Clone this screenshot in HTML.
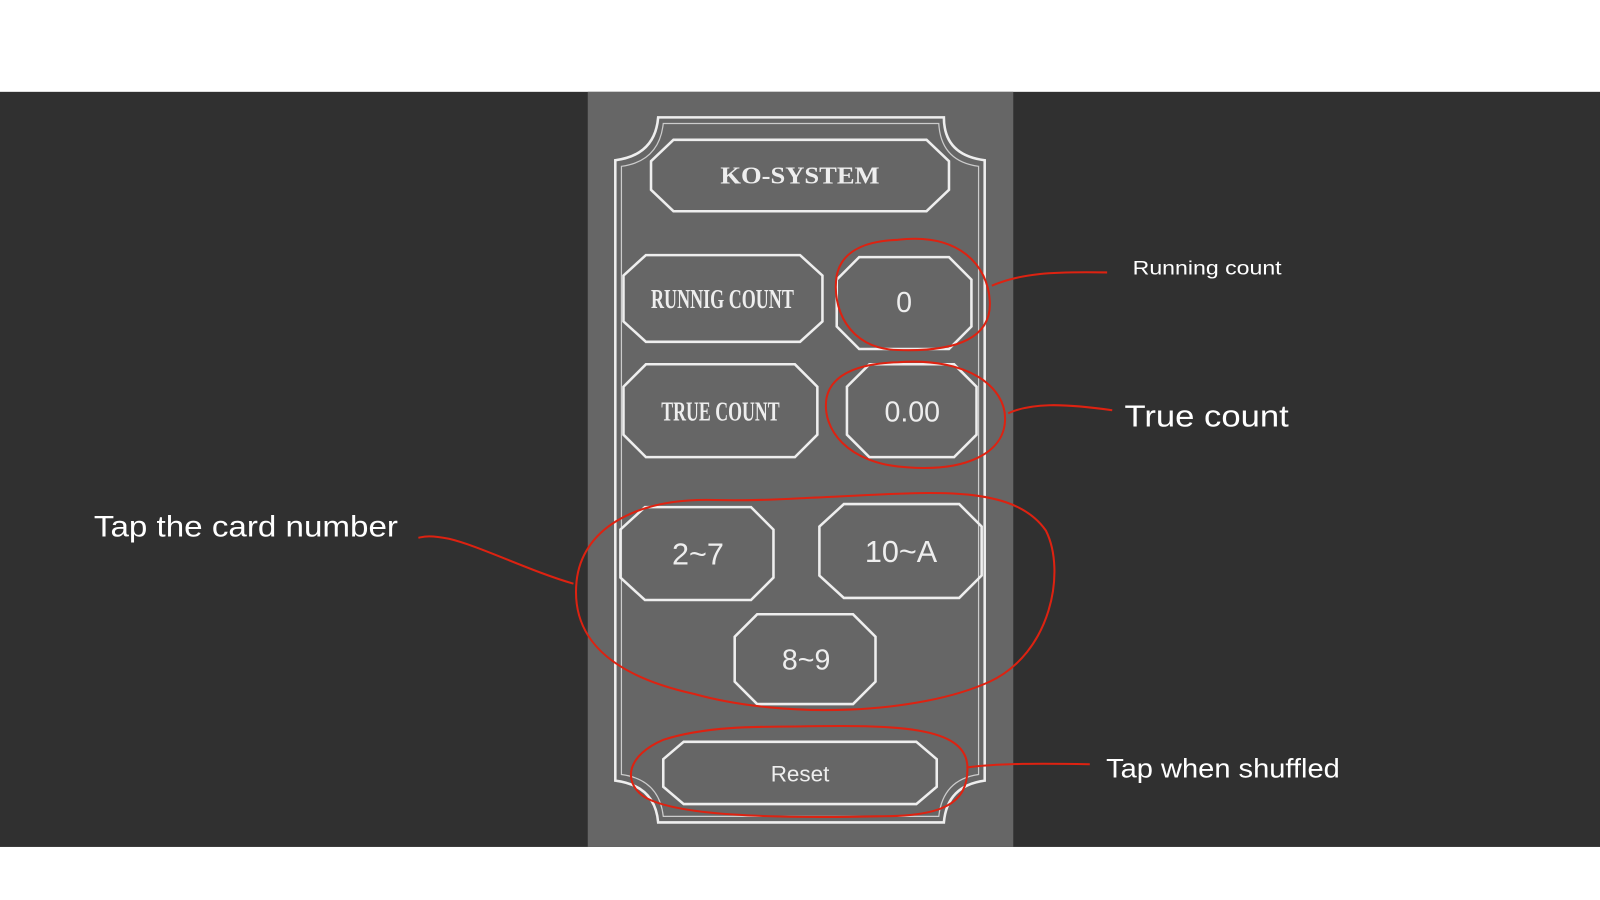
<!DOCTYPE html>
<html><head><meta charset="utf-8"><style>
html,body{margin:0;padding:0;background:#fff;width:1600px;height:900px;overflow:hidden}
svg{display:block}
</style></head><body>
<svg width="1600" height="900" viewBox="0 0 1568 882" preserveAspectRatio="none" xmlns="http://www.w3.org/2000/svg">
<rect x="0" y="0" width="1568" height="882" fill="#fff"/>
<rect x="0" y="90" width="1568" height="740" fill="#303030"/>
<rect x="576" y="90" width="417" height="740" fill="#666"/>
<g fill="none" stroke="#eee" stroke-width="2.5">
<path d="M645,115 L925,115 Q925,152 965,157 L965,765 Q928,770 925,806 L645,806 Q642,770 603,765 L603,157 Q642,152 645,115 Z"/>
<path d="M650,121 L920,121 Q922,158 959,163 L959,759 Q924,764 920,800 L650,800 Q646,764 609,759 L609,163 Q646,158 650,121 Z" stroke-width="1.2" stroke="#ccc"/>
<path d="M660,137 L908,137 L930,158 L930,186 L908,207 L660,207 L638,186 L638,158 Z"/>
<path d="M633,250 L784,250 L806,270 L806,315 L784,335 L633,335 L611,315 L611,270 Z"/>
<path d="M842,252 L930,252 L952,274 L952,320 L930,342 L842,342 L820,320 L820,274 Z"/>
<path d="M633,357 L779,357 L801,379 L801,426 L779,448 L633,448 L611,426 L611,379 Z"/>
<path d="M852,357 L935,357 L957,379 L957,426 L935,448 L852,448 L830,426 L830,379 Z"/>
<path d="M632,497 L736,497 L758,519 L758,566 L736,588 L632,588 L608,566 L608,519 Z"/>
<path d="M827,494 L940,494 L962,516 L962,564 L940,586 L827,586 L803,564 L803,516 Z"/>
<path d="M742,602 L836,602 L858,624 L858,668 L836,690 L742,690 L720,668 L720,624 Z"/>
<path d="M670,727 L898,727 L918,744 L918,771 L898,788 L670,788 L650,771 L650,744 Z"/>
</g>
<g fill="#eee" text-anchor="middle" font-family="'Liberation Serif',serif">
<text x="784" y="180" font-size="24" font-weight="bold" textLength="156" lengthAdjust="spacingAndGlyphs">KO-SYSTEM</text>
<text x="708" y="302" font-size="27" font-weight="bold" textLength="140" lengthAdjust="spacingAndGlyphs">RUNNIG COUNT</text>
<text x="706" y="412" font-size="27" font-weight="bold" textLength="116" lengthAdjust="spacingAndGlyphs">TRUE COUNT</text>
</g>
<g fill="#eee" text-anchor="middle" font-family="'Liberation Sans',sans-serif">
<text x="886" y="306" font-size="28">0</text>
<text x="894" y="413" font-size="28">0.00</text>
<text x="684" y="553" font-size="30">2~7</text>
<text x="883" y="551" font-size="30">10~A</text>
<text x="790" y="656" font-size="28">8~9</text>
<text x="784" y="766" font-size="22">Reset</text>
</g>
<g fill="none" stroke="#d21" stroke-width="2">
<path d="M880,235 C940,228 968,260 970,295 C972,330 940,345 880,343 C830,342 815,300 820,270 C825,245 850,236 880,235 Z"/>
<path d="M972,280 C1000,268 1030,266 1085,267"/>
<path d="M880,355 C950,350 985,380 985,410 C985,445 945,462 890,458 C830,455 805,420 810,390 C815,365 845,356 880,355 Z"/>
<path d="M988,405 C1010,395 1040,395 1090,402"/>
<path d="M790,488 C900,484 990,470 1025,520 C1045,560 1030,640 970,668 C900,700 770,705 680,680 C590,660 560,620 565,570 C570,520 620,488 700,490 C740,491 770,489 790,488 Z"/>
<path d="M562,572 C520,560 470,535 440,528 C420,524 415,526 410,527"/>
<path d="M780,712 C880,710 945,712 948,750 C950,790 920,800 860,800 C760,802 660,800 630,780 C610,765 615,740 650,725 C690,712 740,712 780,712 Z"/>
<path d="M948,752 C980,748 1020,748 1068,749"/>
</g>
<g fill="#fff" font-family="'Liberation Sans',sans-serif">
<text x="1110" y="269" font-size="19" textLength="146" lengthAdjust="spacingAndGlyphs">Running count</text>
<text x="1102" y="418" font-size="30" textLength="161" lengthAdjust="spacingAndGlyphs">True count</text>
<text x="92" y="526" font-size="29" textLength="298" lengthAdjust="spacingAndGlyphs">Tap the card number</text>
<text x="1084" y="762" font-size="26" textLength="229" lengthAdjust="spacingAndGlyphs">Tap when shuffled</text>
</g>
</svg>
</body></html>
